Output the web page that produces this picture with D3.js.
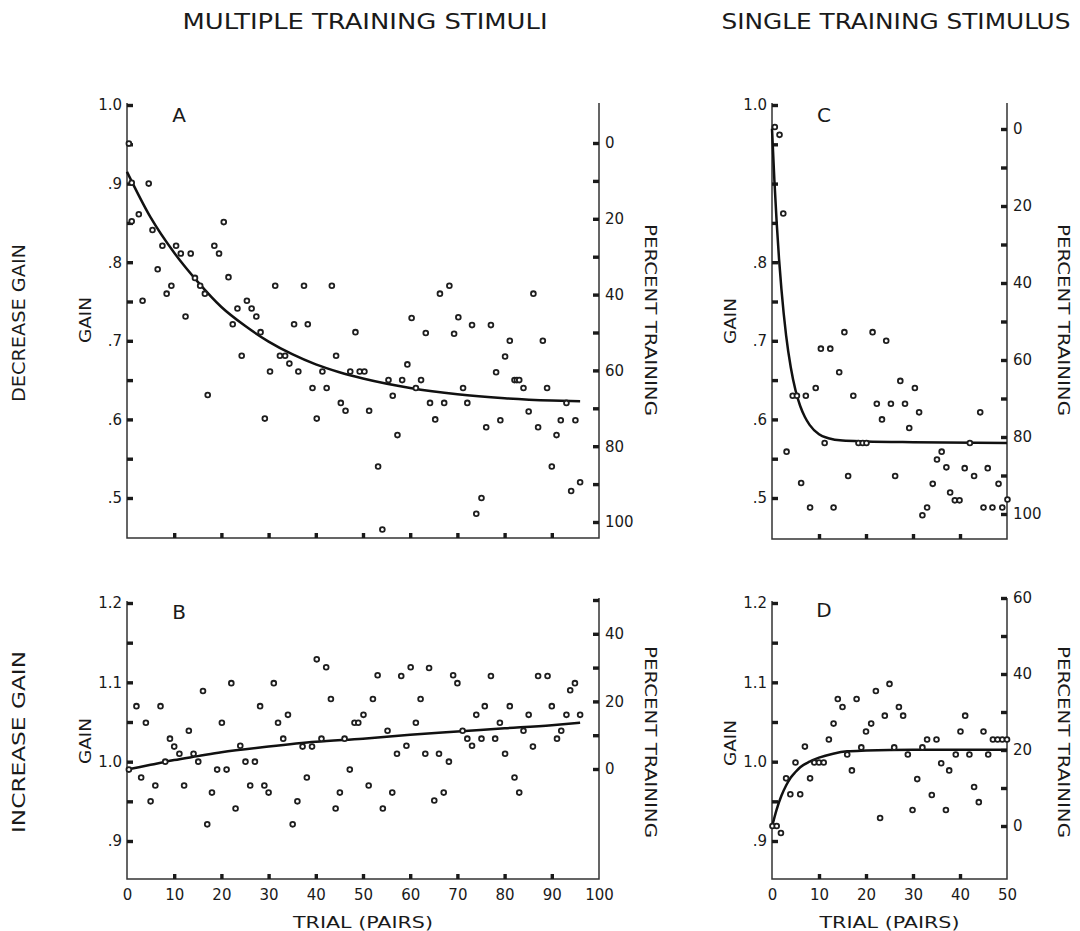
<!DOCTYPE html>
<html>
<head>
<meta charset="utf-8">
<script src="https://cdn.jsdelivr.net/npm/d3@7/dist/d3.min.js"></script>
<style>
  html, body { margin: 0; padding: 0; background: #fff; }
  svg text { font-family: "DejaVu Sans", sans-serif; fill: #1a1a1a; }
  svg text.header { font-family: "DejaVu Sans Condensed", "DejaVu Sans", sans-serif; font-stretch: condensed; }
</style>
</head>
<body>
<div id="chart"></div>
<script>
// ---- data: [trial, gain] ----
const pointsA = [[0.4,0.951],[1,0.901],[1,0.852],[2.5,0.861],[3.3,0.751],[4.6,0.90],[5.4,0.841],[6.5,0.791],[7.5,0.821],[8.4,0.760],[9.4,0.770],[10.4,0.821],[11.4,0.811],[12.4,0.731],[13.5,0.811],[14.4,0.780],[15.5,0.770],[16.5,0.760],[17.1,0.631],[18.5,0.821],[19.5,0.811],[20.5,0.851],[21.5,0.781],[22.4,0.721],[23.4,0.741],[24.3,0.681],[25.4,0.751],[26.4,0.741],[27.4,0.731],[28.3,0.711],[29.2,0.601],[30.3,0.661],[31.4,0.770],[32.4,0.681],[33.5,0.681],[34.4,0.671],[35.4,0.721],[36.3,0.661],[37.5,0.770],[38.3,0.721],[39.3,0.640],[40.2,0.601],[41.4,0.661],[42.3,0.640],[43.4,0.770],[44.3,0.681],[45.3,0.621],[46.3,0.611],[47.3,0.661],[48.4,0.711],[49.3,0.661],[50.3,0.661],[51.3,0.611],[53.2,0.540],[54.1,0.460],[55.4,0.650],[56.3,0.630],[57.3,0.580],[58.3,0.650],[59.4,0.670],[60.3,0.729],[61.2,0.640],[62.3,0.650],[63.3,0.710],[64.2,0.621],[65.3,0.600],[66.3,0.760],[67.2,0.621],[68.3,0.770],[69.3,0.709],[70.2,0.730],[71.2,0.640],[72.1,0.621],[73.1,0.720],[74.0,0.480],[75.1,0.500],[76.1,0.590],[77.1,0.720],[78.2,0.660],[79.1,0.599],[80.1,0.680],[81.1,0.700],[82.1,0.650],[82.6,0.650],[83.1,0.650],[84.0,0.640],[85.1,0.610],[86.1,0.760],[87.1,0.590],[88.1,0.700],[89.0,0.640],[90.0,0.540],[91.0,0.580],[91.9,0.599],[93.1,0.621],[94.1,0.509],[95.0,0.599],[96.0,0.520]];
const curveA = [[0,0.915],[5,0.857],[10,0.812],[15,0.775],[20,0.743],[25,0.719],[30,0.699],[35,0.683],[40,0.670],[45,0.660],[50,0.652],[60,0.640],[70,0.632],[80,0.627],[90,0.624],[96,0.623]];

const pointsB = [[0.4,0.990],[2.0,1.070],[3.0,0.980],[4.0,1.049],[5.0,0.950],[6.0,0.970],[7.1,1.070],[8.1,1.000],[9.1,1.029],[10.0,1.019],[11.1,1.010],[12.1,0.970],[13.1,1.039],[14.1,1.010],[15.1,1.000],[16.1,1.089],[17.0,0.921],[18.0,0.961],[19.1,0.990],[20.1,1.049],[21.1,0.990],[22.1,1.099],[23.0,0.941],[24.0,1.020],[25.1,1.000],[26.1,0.970],[27.1,1.000],[28.2,1.070],[29.1,0.970],[30.0,0.961],[31.1,1.099],[32.0,1.049],[33.1,1.029],[34.1,1.059],[35.1,0.921],[36.1,0.950],[37.2,1.019],[38.1,0.980],[39.2,1.019],[40.2,1.129],[41.2,1.029],[42.2,1.119],[43.2,1.079],[44.2,0.941],[45.1,0.961],[46.1,1.029],[47.2,0.990],[48.2,1.049],[49.0,1.049],[50.1,1.059],[51.2,0.970],[52.1,1.079],[53.1,1.109],[54.2,0.941],[55.2,1.039],[56.2,0.961],[57.2,1.010],[58.1,1.108],[59.2,1.020],[60.1,1.119],[61.2,1.049],[62.2,1.079],[63.2,1.010],[64.0,1.118],[65.1,0.951],[66.1,1.010],[67.1,0.961],[68.2,1.000],[69.1,1.109],[70.0,1.099],[71.1,1.039],[72.1,1.029],[73.1,1.020],[74.0,1.059],[75.1,1.029],[75.8,1.070],[77.1,1.108],[78.0,1.029],[79.0,1.049],[80.1,1.010],[81.1,1.070],[82.1,0.980],[83.1,0.961],[84.0,1.039],[85.1,1.059],[86.0,1.019],[87.1,1.108],[89.1,1.108],[90.0,1.070],[91.1,1.029],[92.0,1.039],[93.1,1.059],[93.9,1.090],[94.9,1.099],[96.0,1.059]];
const curveB = [[0,0.990],[5,0.996],[10,1.002],[15,1.007],[20,1.012],[30,1.019],[40,1.025],[50,1.029],[60,1.034],[70,1.038],[80,1.042],[90,1.046],[96,1.049]];

const pointsC = [[0.6,0.972],[1.6,0.962],[2.4,0.862],[3.1,0.559],[4.4,0.630],[5.3,0.630],[6.2,0.519],[7.2,0.630],[8.1,0.488],[9.3,0.640],[10.4,0.690],[11.2,0.570],[12.4,0.690],[13.1,0.488],[14.3,0.660],[15.4,0.711],[16.2,0.528],[17.3,0.630],[18.4,0.570],[19.3,0.570],[20.1,0.570],[21.4,0.711],[22.3,0.620],[23.4,0.600],[24.3,0.700],[25.3,0.620],[26.2,0.528],[27.3,0.649],[28.3,0.620],[29.2,0.589],[30.4,0.640],[31.3,0.609],[32.0,0.478],[33.0,0.488],[34.2,0.518],[35.1,0.549],[36.1,0.559],[37.1,0.539],[37.9,0.507],[38.9,0.497],[39.9,0.497],[41.0,0.538],[42.1,0.570],[43.0,0.528],[44.3,0.609],[45.0,0.488],[45.9,0.538],[46.9,0.488],[48.2,0.518],[49.0,0.488],[50.1,0.498]];
const curveC = [[0,0.970],[0.5,0.905],[1,0.850],[1.5,0.804],[2,0.766],[3,0.707],[4,0.666],[5,0.637],[6,0.617],[7,0.603],[8,0.593],[10,0.581],[12,0.576],[15,0.573],[20,0.572],[30,0.571],[50,0.570]];

const pointsD = [[0.1,0.919],[1.0,0.919],[1.9,0.910],[3.0,0.979],[3.9,0.959],[5.0,0.999],[6.0,0.959],[7.0,1.019],[8.1,0.979],[9.0,0.999],[10.0,0.999],[11.0,0.999],[12.1,1.028],[13.1,1.048],[14.0,1.079],[15.0,1.069],[16.0,1.009],[17.0,0.989],[18.0,1.079],[19.0,1.018],[20.0,1.038],[21.1,1.048],[22.1,1.089],[23.0,0.929],[24.0,1.058],[25.0,1.098],[26.0,1.018],[27.0,1.069],[27.9,1.058],[28.9,1.009],[29.9,0.939],[30.9,0.978],[32.0,1.018],[33.0,1.028],[34.0,0.958],[35.0,1.028],[36.0,0.998],[37.0,0.939],[37.7,0.989],[39.1,1.009],[40.1,1.038],[41.1,1.058],[42.0,1.009],[43.0,0.968],[44.0,0.949],[45.0,1.038],[46.0,1.009],[47.0,1.028],[48.0,1.028],[49.0,1.028],[50.0,1.028]];
const curveD = [[0,0.918],[1,0.940],[2,0.957],[3,0.970],[4,0.980],[5,0.987],[6,0.993],[8,1.000],[10,1.005],[13,1.010],[16,1.013],[20,1.014],[30,1.015],[50,1.015]];

// ---- tick values / labels ----
const gainTicksDec = [0.5,0.55,0.6,0.65,0.7,0.75,0.8,0.85,0.9,0.95,1.0];
const gainLabelsA = [0.5,0.6,0.7,0.8,0.9,1.0];
const gainLabelsC = [0.5,0.6,0.7,0.8,1.0];
const gainTicksInc = [0.9,0.95,1.0,1.05,1.1,1.15,1.2];
const gainLabelsInc = [0.9,1.0,1.1,1.2];
const pctTicksA = [0,10,20,30,40,50,60,70,80,90,100];
const pctLabelsA = [0,20,40,60,80,100];
const pctTicksB = [0,10,20,30,40,50];
const pctLabelsB = [0,20,40];
const pctTicksD = [0,10,20,30,40,50,60];
const pctLabelsD = [0,20,40,60];
const trialTicks100 = [0,10,20,30,40,50,60,70,80,90,100];
const trialTicks50 = [0,10,20,30,40,50];

const headers = ["MULTIPLE  TRAINING  STIMULI", "SINGLE  TRAINING  STIMULUS"];
const rowLabels = ["DECREASE  GAIN", "INCREASE  GAIN"];

const svg = d3.select("#chart").append("svg")
  .attr("width", 1080).attr("height", 931);

const fmtGain = d => d >= 1 ? d.toFixed(1) : d.toFixed(1).slice(1);
const ink = "#1a1a1a";

function drawPanel(p) {
  const g = svg.append("g");

  // axis lines (left, bottom, right)
  g.append("path")
    .attr("d", `M${p.x.range()[0]},${p.top}V${p.bottom}H${p.x.range()[1]}V${p.rTop}`)
    .attr("fill", "none").attr("stroke", "#333").attr("stroke-width", 1.5);

  // left gain axis, ticks pointing inward
  const left = g.append("g")
    .attr("transform", `translate(${p.x.range()[0]},0)`)
    .call(d3.axisLeft(p.y).tickValues(p.yTicks).tickSizeInner(-6).tickSizeOuter(0).tickPadding(5)
      .tickFormat(d => p.yLabels.some(v => Math.abs(v - d) < 1e-6) ? fmtGain(d) : ""));

  // right percent axis
  const right = g.append("g")
    .attr("transform", `translate(${p.x.range()[1]},0)`)
    .call(d3.axisRight(p.yR).tickValues(p.rTicks).tickSizeInner(-6).tickSizeOuter(0).tickPadding(6)
      .tickFormat(d => p.rLabels.includes(d) ? String(d) : ""));

  // bottom trial axis
  const bottom = g.append("g")
    .attr("transform", `translate(0,${p.bottom})`)
    .call(d3.axisBottom(p.x).tickValues(p.xTicks).tickSizeInner(-5).tickSizeOuter(0).tickPadding(10)
      .tickFormat(d => p.xLabels ? String(d) : ""));
  bottom.selectAll(".tick").filter(d => d === p.xTicks[0] || d === p.xTicks[p.xTicks.length - 1])
    .select("line").remove();

  [left, right, bottom].forEach(a => {
    a.select(".domain").remove();
    a.selectAll(".tick line").attr("stroke", ink).attr("stroke-width", 3.4);
    a.selectAll(".tick text").attr("font-size", 15).attr("fill", ink)
      .style("font-family", "'DejaVu Sans', sans-serif");
  });

  // fitted curve
  g.append("path")
    .datum(p.curve)
    .attr("fill", "none").attr("stroke", "#111").attr("stroke-width", 2.5)
    .attr("d", d3.line().x(d => p.x(d[0])).y(d => p.y(d[1])).curve(d3.curveMonotoneX));

  // data points
  g.selectAll("circle").data(p.points).join("circle")
    .attr("cx", d => p.x(d[0])).attr("cy", d => p.y(d[1]))
    .attr("r", 2.4)
    .attr("fill", "#fff").attr("stroke", "#1e1e1e").attr("stroke-width", 1.8);

  // panel letter
  g.append("text").attr("x", p.x(0) + 52).attr("y", p.letterY)
    .attr("text-anchor", "middle").attr("font-size", 20).text(p.letter);

  // GAIN label
  g.append("text")
    .attr("transform", `translate(${p.x.range()[0] - 36},${p.midY}) rotate(-90)`)
    .attr("text-anchor", "middle").attr("font-size", 15)
    .attr("textLength", 46).attr("lengthAdjust", "spacingAndGlyphs")
    .text("GAIN");

  // PERCENT TRAINING label
  g.append("text")
    .attr("transform", `translate(${p.x.range()[1] + p.pctDx},${p.pctY}) rotate(90)`)
    .attr("text-anchor", "middle").attr("font-size", 15)
    .attr("textLength", 192).attr("lengthAdjust", "spacingAndGlyphs")
    .text("PERCENT  TRAINING");

  if (p.xLabels) {
    g.append("text")
      .attr("x", (p.x.range()[0] + p.x.range()[1]) / 2).attr("y", 928)
      .attr("text-anchor", "middle").attr("font-size", 15)
      .attr("textLength", 140).attr("lengthAdjust", "spacingAndGlyphs")
      .text("TRIAL  (PAIRS)");
  }
}

const xWide = d3.scaleLinear().domain([0, 100]).range([127, 599]);
const xNarrow = d3.scaleLinear().domain([0, 50]).range([772, 1007]);
const yDec = d3.scaleLinear().domain([0.5, 1.0]).range([498, 105]);
const yInc = d3.scaleLinear().domain([0.9, 1.2]).range([841, 603]);

drawPanel({
  letter: "A", points: pointsA, curve: curveA,
  x: xWide, y: yDec, yR: d3.scaleLinear().domain([0, 100]).range([143, 522]),
  top: 103, bottom: 538, rTop: 103,
  yTicks: gainTicksDec, yLabels: gainLabelsA, rTicks: pctTicksA, rLabels: pctLabelsA,
  xTicks: trialTicks100, xLabels: false,
  letterY: 122, midY: 320, pctY: 320, pctDx: 46
});
drawPanel({
  letter: "B", points: pointsB, curve: curveB,
  x: xWide, y: yInc, yR: d3.scaleLinear().domain([0, 50]).range([769, 600]),
  top: 601, bottom: 879, rTop: 598,
  yTicks: gainTicksInc, yLabels: gainLabelsInc, rTicks: pctTicksB, rLabels: pctLabelsB,
  xTicks: trialTicks100, xLabels: true,
  letterY: 619, midY: 741, pctY: 742, pctDx: 46
});
drawPanel({
  letter: "C", points: pointsC, curve: curveC,
  x: xNarrow, y: yDec, yR: d3.scaleLinear().domain([0, 100]).range([129, 514]),
  top: 103, bottom: 539, rTop: 103,
  yTicks: gainTicksDec, yLabels: gainLabelsC, rTicks: pctTicksA, rLabels: pctLabelsA,
  xTicks: trialTicks50, xLabels: false,
  letterY: 122, midY: 321, pctY: 320, pctDx: 51
});
drawPanel({
  letter: "D", points: pointsD, curve: curveD,
  x: xNarrow, y: yInc, yR: d3.scaleLinear().domain([0, 60]).range([826, 598]),
  top: 601, bottom: 879, rTop: 598,
  yTicks: gainTicksInc, yLabels: gainLabelsInc, rTicks: pctTicksD, rLabels: pctLabelsD,
  xTicks: trialTicks50, xLabels: true,
  letterY: 617, midY: 743, pctY: 742, pctDx: 51
});

// column headers
svg.selectAll(".header").data(headers).join("text")
  .attr("class", "header")
  .attr("x", (d, i) => i === 0 ? 365 : 896).attr("y", 29)
  .attr("text-anchor", "middle").attr("font-size", 22)
  .attr("textLength", (d, i) => i === 0 ? 365 : 349).attr("lengthAdjust", "spacingAndGlyphs")
  .text(d => d);

// row labels
svg.selectAll(".rowlab").data(rowLabels).join("text")
  .attr("class", "rowlab")
  .attr("transform", (d, i) => `translate(25,${i === 0 ? 323 : 742}) rotate(-90)`)
  .attr("text-anchor", "middle").attr("font-size", 18)
  .attr("textLength", (d, i) => i === 0 ? 158 : 182).attr("lengthAdjust", "spacingAndGlyphs")
  .text(d => d);
</script>
</body>
</html>
